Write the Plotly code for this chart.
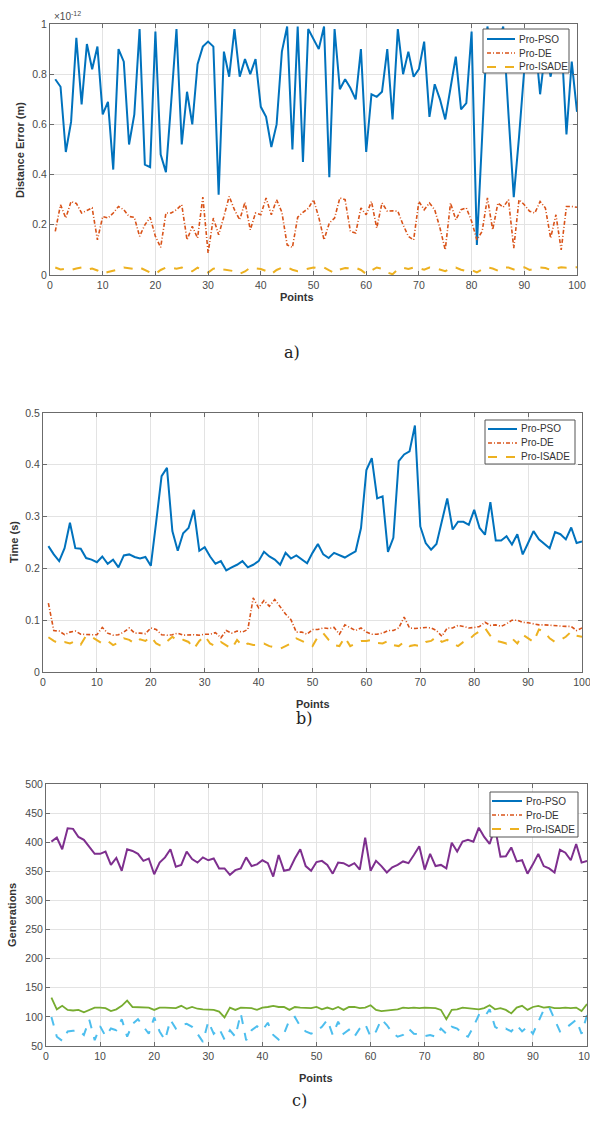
import plotly.graph_objects as go

points = list(range(1, 101))

# ---- a) Distance error (values in units of 1e-12 m)
pso_err = [0.78,0.75,0.49,0.61,0.945,0.68,0.92,0.82,0.91,0.64,
           0.69,0.42,0.90,0.85,0.52,0.64,0.98,0.44,0.43,0.97,
           0.48,0.41,0.69,0.98,0.52,0.73,0.60,0.84,0.91,0.93,
           0.91,0.32,0.89,0.79,0.98,0.79,0.86,0.80,0.86,0.67,
           0.63,0.51,0.60,0.89,0.99,0.50,0.99,0.45,0.98,0.94,
           0.90,0.99,0.39,0.98,0.74,0.78,0.745,0.70,0.90,0.49,
           0.72,0.71,0.73,0.90,0.62,0.98,0.80,0.89,0.79,0.82,
           0.93,0.63,0.76,0.70,0.62,0.745,0.87,0.66,0.685,0.97,
           0.12,0.55,0.99,0.86,0.93,0.99,0.64,0.31,0.55,0.82,
           0.88,0.95,0.72,0.90,0.79,0.92,0.95,0.56,0.85,0.65]
de_err = [0.174,0.28,0.227,0.293,0.285,0.247,0.257,0.267,0.14,0.233,
          0.227,0.247,0.273,0.26,0.233,0.23,0.154,0.20,0.23,0.154,
          0.11,0.247,0.247,0.26,0.28,0.14,0.194,0.147,0.31,0.088,
          0.227,0.16,0.233,0.313,0.26,0.22,0.29,0.18,0.247,0.24,
          0.307,0.24,0.30,0.25,0.12,0.11,0.23,0.25,0.265,0.30,
          0.23,0.14,0.207,0.227,0.307,0.30,0.174,0.167,0.267,0.24,
          0.293,0.187,0.287,0.254,0.256,0.254,0.20,0.154,0.14,0.293,
          0.26,0.287,0.26,0.187,0.10,0.287,0.22,0.26,0.267,0.214,
          0.14,0.174,0.307,0.18,0.287,0.27,0.30,0.107,0.30,0.28,
          0.254,0.247,0.293,0.267,0.147,0.24,0.10,0.273,0.273,0.27]
isade_err = [0.030,0.022,0.025,0.020,0.026,0.030,0.021,0.026,0.018,0.006,
             0.012,0.016,0.022,0.030,0.028,0.024,0.030,0.020,0.010,0.004,
             0.020,0.030,0.029,0.025,0.030,0.021,0.015,0.029,0.020,0.010,
             0.025,0.030,0.022,0.019,0.015,0.005,0.014,0.030,0.026,0.024,
             0.016,0.004,0.020,0.029,0.031,0.021,0.015,0.020,0.026,0.030,
             0.026,0.030,0.018,0.008,0.022,0.028,0.026,0.029,0.020,0.004,
             0.018,0.030,0.025,0.010,0.003,0.022,0.029,0.024,0.030,0.027,
             0.021,0.030,0.028,0.022,0.015,0.026,0.030,0.021,0.016,0.020,
             0.010,0.022,0.030,0.026,0.017,0.029,0.030,0.022,0.026,0.031,
             0.020,0.024,0.030,0.028,0.020,0.026,0.031,0.029,0.030,0.031]

# ---- b) Time (s)
pso_time = [0.243,0.227,0.214,0.239,0.288,0.239,0.238,0.220,0.217,0.212,
            0.223,0.209,0.217,0.202,0.225,0.227,0.222,0.219,0.222,0.205,
            0.290,0.378,0.394,0.272,0.234,0.268,0.278,0.313,0.234,0.241,
            0.223,0.209,0.214,0.196,0.202,0.207,0.214,0.202,0.207,0.214,
            0.232,0.223,0.217,0.207,0.230,0.219,0.225,0.217,0.210,0.230,
            0.247,0.227,0.220,0.230,0.225,0.221,0.227,0.233,0.278,0.390,
            0.413,0.335,0.339,0.232,0.259,0.407,0.420,0.426,0.476,0.281,
            0.249,0.236,0.247,0.294,0.335,0.275,0.290,0.290,0.284,0.313,
            0.278,0.265,0.328,0.254,0.254,0.262,0.246,0.266,0.227,0.249,
            0.272,0.256,0.247,0.239,0.270,0.266,0.256,0.279,0.249,0.252]
de_time = [0.133,0.080,0.079,0.072,0.077,0.079,0.073,0.072,0.072,0.072,
           0.086,0.075,0.071,0.072,0.077,0.085,0.075,0.075,0.074,0.085,
           0.082,0.072,0.071,0.072,0.075,0.071,0.072,0.072,0.071,0.073,
           0.073,0.076,0.066,0.080,0.075,0.079,0.077,0.082,0.143,0.124,
           0.138,0.127,0.140,0.125,0.112,0.101,0.077,0.077,0.073,0.082,
           0.082,0.085,0.084,0.086,0.073,0.091,0.086,0.080,0.085,0.077,
           0.073,0.073,0.075,0.080,0.080,0.085,0.106,0.085,0.084,0.085,
           0.086,0.085,0.080,0.069,0.085,0.085,0.090,0.088,0.085,0.086,
           0.088,0.096,0.090,0.091,0.088,0.093,0.100,0.100,0.096,0.095,
           0.093,0.091,0.091,0.090,0.090,0.089,0.088,0.088,0.080,0.085]
isade_time = [0.067,0.060,0.055,0.058,0.055,0.060,0.053,0.070,0.068,0.062,
              0.055,0.060,0.052,0.057,0.065,0.062,0.055,0.063,0.060,0.068,
              0.055,0.050,0.060,0.068,0.060,0.062,0.058,0.045,0.060,0.070,
              0.055,0.050,0.058,0.052,0.045,0.062,0.050,0.055,0.052,0.052,
              0.055,0.050,0.048,0.045,0.050,0.055,0.065,0.060,0.055,0.050,
              0.068,0.075,0.062,0.052,0.050,0.067,0.050,0.055,0.060,0.060,
              0.062,0.056,0.055,0.060,0.052,0.050,0.058,0.050,0.052,0.050,
              0.058,0.060,0.068,0.058,0.062,0.055,0.050,0.058,0.062,0.072,
              0.078,0.085,0.070,0.060,0.058,0.055,0.065,0.055,0.072,0.065,
              0.058,0.082,0.078,0.065,0.058,0.062,0.068,0.078,0.070,0.068]

# ---- c) Generations
pso_gen = [401,408,388,424,423,409,404,392,380,380,
           384,361,373,351,388,385,380,368,372,345,
           365,374,388,358,361,384,371,365,374,369,
           372,355,355,344,352,355,374,359,362,369,
           364,341,378,351,353,372,388,359,351,366,
           368,361,346,365,364,359,364,353,408,351,
           368,359,348,357,361,367,364,378,393,353,
           380,359,361,355,399,384,401,404,401,425,
           409,397,425,375,376,391,367,369,346,362,
           380,359,355,348,387,382,369,397,365,368]
de_gen = [133,113,119,112,111,112,108,112,116,116,
          115,110,113,119,128,117,117,116,116,112,
          116,116,115,115,119,114,117,114,113,113,
          112,109,99,116,112,116,115,115,112,116,
          117,119,117,117,112,117,116,115,115,117,
          113,116,113,117,112,117,117,115,116,120,
          112,110,111,113,113,116,115,116,115,116,
          115,115,112,96,112,113,116,115,115,113,
          115,120,113,115,112,106,116,119,112,117,
          119,116,117,115,115,116,115,116,110,122]
isade_gen = [100,66,59,75,76,77,69,95,60,84,
             67,80,77,96,66,88,96,84,71,99,
             75,60,95,80,86,88,83,71,57,92,
             71,80,61,77,66,106,60,77,84,77,
             90,69,61,71,95,100,84,75,71,75,
             83,95,69,92,71,78,66,80,88,66,
             75,96,86,73,66,69,80,71,70,67,
             69,66,80,71,83,80,71,66,83,103,
             99,113,83,77,80,75,86,75,83,71,
             92,112,117,95,75,80,88,95,71,103]

series_names = ["Pro-PSO", "Pro-DE", "Pro-ISADE"]
x_ticks = [0, 10, 20, 30, 40, 50, 60, 70, 80, 90, 100]
err_ticks = [0, 0.2, 0.4, 0.6, 0.8, 1]
time_ticks = [0, 0.1, 0.2, 0.3, 0.4, 0.5]
gen_ticks = [50, 100, 150, 200, 250, 300, 350, 400, 450, 500]

W, H = 590, 1122
BLUE, ORANGE, YELLOW = "#0072BD", "#D95319", "#EDB120"
PURPLE, GREEN, CYAN = "#7E2F8E", "#77AC30", "#4DBEEE"
DASHDOT = "4px,2px,1px,2px"

def xd(l, r):
    return [l / W, r / W]

def yd(t, b):
    return [1 - b / H, 1 - t / H]

fig = go.Figure()

def line(x, y, color, dash, width, name, xa, ya):
    fig.add_trace(go.Scatter(x=x, y=y, mode="lines", name=name,
                             line=dict(color=color, dash=dash, width=width),
                             xaxis=xa, yaxis=ya, showlegend=False))

# a)
line(points, pso_err, BLUE, "solid", 2, series_names[0], "x", "y")
line(points, de_err, ORANGE, DASHDOT, 1.6, series_names[1], "x", "y")
line(points, isade_err, YELLOW, "dash", 2, series_names[2], "x", "y")
# b)
line(points, pso_time, BLUE, "solid", 2, series_names[0], "x2", "y2")
line(points, de_time, ORANGE, DASHDOT, 1.6, series_names[1], "x2", "y2")
line(points, isade_time, YELLOW, "dash", 2, series_names[2], "x2", "y2")
# c)
line(points, pso_gen, PURPLE, "solid", 2, series_names[0], "x3", "y3")
line(points, de_gen, GREEN, "solid", 1.8, series_names[1], "x3", "y3")
line(points, isade_gen, CYAN, "dash", 2, series_names[2], "x3", "y3")

tickfont = dict(family="Liberation Sans, Arial", size=10.5, color="#4a4a4a")
common = dict(showgrid=True, gridcolor="#e3e3e3", gridwidth=1,
              showline=True, linecolor="#6b6b6b", linewidth=1, mirror="ticks",
              ticks="inside", ticklen=4, tickcolor="#6b6b6b",
              tickfont=tickfont, zeroline=False, automargin=False,
              ticklabeloverflow="allow")

fig.update_layout(
    width=W, height=H, margin=dict(l=0, r=0, t=0, b=0),
    paper_bgcolor="white", plot_bgcolor="white",
    xaxis=dict(domain=xd(50, 577), range=[0, 100], tickvals=x_ticks, anchor="y", **common),
    yaxis=dict(domain=yd(24, 275), range=[0, 1], tickvals=err_ticks,
               ticktext=["0", "0.2", "0.4", "0.6", "0.8", "1"], anchor="x", **common),
    xaxis2=dict(domain=xd(43, 582), range=[0, 100], tickvals=x_ticks, anchor="y2", **common),
    yaxis2=dict(domain=yd(413, 672), range=[0, 0.5], tickvals=time_ticks,
                ticktext=["0", "0.1", "0.2", "0.3", "0.4", "0.5"], anchor="x2", **common),
    xaxis3=dict(domain=xd(46, 587), range=[0, 100], tickvals=x_ticks, anchor="y3", **common),
    yaxis3=dict(domain=yd(784, 1046), range=[50, 500], tickvals=gen_ticks, anchor="x3", **common),
)

# ---- legends (box, key lines, labels), one per panel
legfont = dict(family="Liberation Sans, Arial", size=10, color="#333333")
legend_styles = [(BLUE, "solid", 2), (ORANGE, DASHDOT, 1.6), (YELLOW, "dash", 2)]

def draw_legend(box, rows, key_x0, key_x1):
    l, t, r, b = box
    fig.add_shape(type="rect", xref="paper", yref="paper",
                  x0=l / W, x1=r / W, y0=1 - b / H, y1=1 - t / H,
                  line=dict(color="#555555", width=1), fillcolor="white", layer="above")
    for (color, dash, width), ry, name in zip(legend_styles, rows, series_names):
        fig.add_shape(type="line", xref="paper", yref="paper",
                      x0=key_x0 / W, x1=key_x1 / W, y0=1 - ry / H, y1=1 - ry / H,
                      line=dict(color=color, dash=dash, width=width), layer="above")
        fig.add_annotation(xref="paper", yref="paper", showarrow=False, text=name,
                           x=(key_x1 + 2) / W, y=1 - ry / H, xanchor="left",
                           yanchor="middle", font=legfont)

draw_legend((483, 29, 569, 73), (39, 53, 67), 487, 515)
draw_legend((485, 420, 575, 464), (429, 443, 457), 488, 517)
draw_legend((490, 792, 578, 837), (801, 815, 829), 492, 522)

bold = dict(family="Liberation Sans, Arial", size=11, color="#333333")
annots = [
    dict(text="<b>Points</b>", x=297 / W, y=1 - 297 / H),
    dict(text="<b>Points</b>", x=313 / W, y=1 - 704 / H),
    dict(text="<b>Points</b>", x=316 / W, y=1 - 1078 / H),
    dict(text="<b>Distance Error (m)</b>", x=20 / W, y=1 - 150 / H, textangle=-90),
    dict(text="<b>Time (s)</b>", x=14 / W, y=1 - 542 / H, textangle=-90),
    dict(text="<b>Generations</b>", x=12 / W, y=1 - 915 / H, textangle=-90),
]
for a in annots:
    fig.add_annotation(xref="paper", yref="paper", showarrow=False, font=bold,
                       xanchor="center", yanchor="middle", **a)

fig.add_annotation(xref="paper", yref="paper", showarrow=False,
                   text="×10<sup>-12</sup>", x=52 / W, y=1 - 16 / H,
                   xanchor="left", yanchor="middle",
                   font=dict(family="Liberation Sans, Arial", size=10, color="#4a4a4a"))

serif = dict(family="DejaVu Serif, Liberation Serif", size=16, color="#222222")
for lab, xx, yy in [("a)", 292, 352), ("b)", 304, 718), ("c)", 299, 1100)]:
    fig.add_annotation(xref="paper", yref="paper", showarrow=False, text=lab,
                       x=xx / W, y=1 - yy / H, xanchor="center", yanchor="middle", font=serif)

fig.write_html("out.html")
